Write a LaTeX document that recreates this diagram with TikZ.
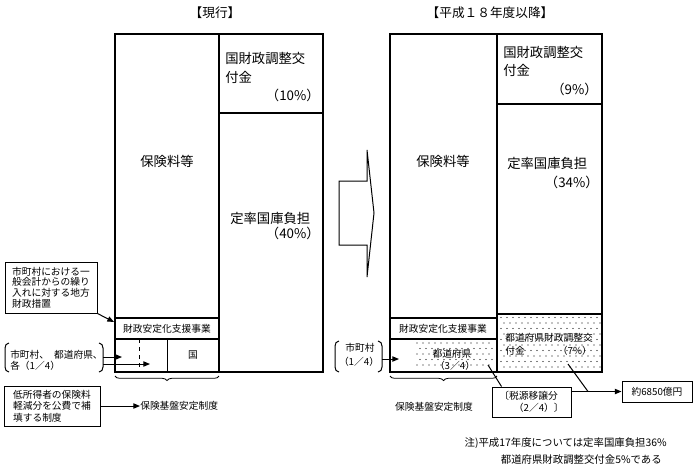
\documentclass[tikz,border=0pt]{standalone}
\usepackage{fontspec}
\setmainfont{Noto Sans CJK JP}
\usetikzlibrary{arrows.meta,decorations.pathreplacing}
\begin{document}
\begin{tikzpicture}[x=0.75pt,y=-0.75pt,
  thk/.style={line width=1.8pt},
  thn/.style={line width=0.75pt},
  arr/.style={thn,-{Triangle[length=5pt,width=4pt]}},
  big/.style={font=\fontsize{10}{12}\selectfont, inner sep=0pt},
  sm/.style={font=\fontsize{7.3}{8}\selectfont, inner sep=0pt},
  ttl/.style={font=\fontsize{9.5}{11}\selectfont, inner sep=0pt},
  lbox/.style={draw,thn,align=left,font=\fontsize{7.3}{7.9}\selectfont,inner sep=0pt},
  notefont/.style={font=\fontsize{7.8}{9}\selectfont, inner sep=0pt},
  bracefig/.style={line width=0.6pt, decorate, decoration={brace,mirror,amplitude=3.5pt}},
]
\useasboundingbox (0,0) rectangle (700,465);

% titles
\node[ttl] (t1) at (215,13) {【現行】};
\node[ttl] (t2) at (490,13) {【平成１８年度以降】};

% ---------- left frame ----------
\draw[thk] (115,34) rectangle (323,372);
\draw[thk] (219,34) -- (219,372);
\draw[thk] (219,113) -- (323,113);
\draw[thk] (115,318) -- (219,318);
\draw[thk] (115,339) -- (219,339);
\draw[thn] (167,339) -- (167,372);
\draw[thn,dashed] (139,339) -- (139,372);

\node[big,anchor=west] (kz1a) at (225,58) {国財政調整交};
\node[big,anchor=west] (kz1b) at (225,77) {付金};
\node[big,anchor=east] (kz1c) at (320,95) {（10\%）};
\node[big] (hk1) at (167,161) {保険料等};
\node[big,anchor=west] (tk1a) at (230,218) {定率国庫負担};
\node[big,anchor=east] (tk1b) at (320,233) {（40\%）};
\node[sm] (zs1) at (167,328.5) {財政安定化支援事業};
\node[sm] (kuni) at (193,355) {国};

% left side labels
\node[lbox, minimum width=69pt, minimum height=38.25pt] (tiho) at (51,287.5)
  {市町村における一\\般会計からの繰り\\入れに対する地方\\財政措置};
\coordinate (zsIn) at (114,322);
\draw[arr] (tiho.south east) -- (zsIn);

\node[sm, align=left, anchor=west, font=\fontsize{7.3}{8.2}\selectfont] (grp1) at (10,360.5) {市町村、\hspace{0.5em}都道府県、\\各（1／4）};
\draw[thn] (9,343) to[out=180,in=90] (5,348) -- (5,367) to[out=-90,in=180] (9,372);
\draw[thn] (99,343) to[out=0,in=90] (103,348) -- (103,367) to[out=-90,in=0] (99,372);
\coordinate (p1a) at (103,357);
\coordinate (p1b) at (103,364);
\coordinate (shIn) at (122,357);
\coordinate (tdIn) at (150,364);
\draw[arr] (p1a) -- (shIn);
\draw[arr] (p1b) -- (tdIn);

\draw[bracefig] (115,376) -- (219,376);

\node[lbox, font=\fontsize{7.3}{8.6}\selectfont, minimum width=72pt, minimum height=30pt] (teishotoku) at (52,406)
  {低所得者の保険料\\軽減分を公費で補\\填する制度};
\node[sm,anchor=west] (kiban1) at (140,406) {保険基盤安定制度};
\draw[arr] (teishotoku.east) -- (kiban1.west);

% ---------- middle arrow ----------
\draw[thn] (339,181) -- (367,181) -- (367,150) -- (374,213) -- (367,277) -- (367,245) -- (339,245) -- cycle;

% ---------- right frame ----------
% dots
\foreach \i in {0,...,16} \foreach \j in {0,...,9}
  \fill ({501+6*\i+3*mod(\j,2)},{317.5+5.5*\j}) circle[radius=0.45pt];
\foreach \i in {0,...,12} \foreach \j in {0,...,4}
  \fill ({417+6*\i+3*mod(\j,2)},{343+5.5*\j}) circle[radius=0.45pt];

\draw[thk] (390,34) rectangle (602,372);
\draw[thk] (497,34) -- (497,372);
\draw[thk] (497,104) -- (602,104);
\draw[thk] (497,314) -- (602,314);
\draw[thk] (390,318) -- (497,318);
\draw[thk] (390,339) -- (497,339);

\node[big,anchor=west] (kz2a) at (503,52) {国財政調整交};
\node[big,anchor=west] (kz2b) at (503,70) {付金};
\node[big,anchor=east] (kz2c) at (598,89) {（9\%）};
\node[big] (hk2) at (443,161) {保険料等};
\node[big,anchor=west] (tk2a) at (507,163) {定率国庫負担};
\node[big,anchor=east] (tk2b) at (599,182) {（34\%）};
\node[sm] (zs2) at (443,328.5) {財政安定化支援事業};
\node[sm,anchor=west] (tk3a) at (505,338) {都道府県財政調整交};
\node[sm,anchor=west] (tk3b) at (505,351) {付金};
\node[sm,anchor=east] (tk3c) at (592,351) {（7\%）};
\node[sm] (td2a) at (452,354) {都道府県};
\node[sm] (td2b) at (455,366) {（3／4）};

% right paren group
\node[sm] (sh2a) at (360,348) {市町村};
\node[sm] (sh2b) at (359,362) {（1／4）};
\draw[thn] (339,341) to[out=180,in=90] (335,346) -- (335,367) to[out=-90,in=180] (339,372);
\draw[thn] (378,341) to[out=0,in=90] (382,346) -- (382,367) to[out=-90,in=0] (378,372);
\coordinate (p2) at (382,359);
\coordinate (shIn2) at (399,359);
\draw[arr] (p2) -- (shIn2);

\draw[bracefig] (390,376) -- (497,376);
\node[sm] (kiban2) at (434,407) {保険基盤安定制度};

\node[lbox, font=\fontsize{7.3}{9}\selectfont, minimum width=59.25pt, minimum height=22.5pt] (zeigen) at (531.5,402)
  {〔税源移譲分\\\hspace*{1.5em}（2／4）〕};
\node[lbox, minimum width=52.5pt, minimum height=15.75pt] (oku) at (657,391.5) {約6850億円};

\coordinate (tdPt) at (488,365);
\draw[thn] (tdPt) -- ([xshift=7.5pt]zeigen.north west);
\draw[arr] (zeigen.east |- oku.west) -- (oku.west);
\coordinate (kfPt) at (568,364);
\coordinate (junc) at (588,391.5);
\draw[thn] (kfPt) -- (junc);

% notes
\node[notefont,anchor=east] (note1) at (667,443) {注)平成17年度については定率国庫負担36\%};
\node[notefont,anchor=east] (note2) at (662,460) {都道府県財政調整交付金5\%である};
\end{tikzpicture}
\end{document}
